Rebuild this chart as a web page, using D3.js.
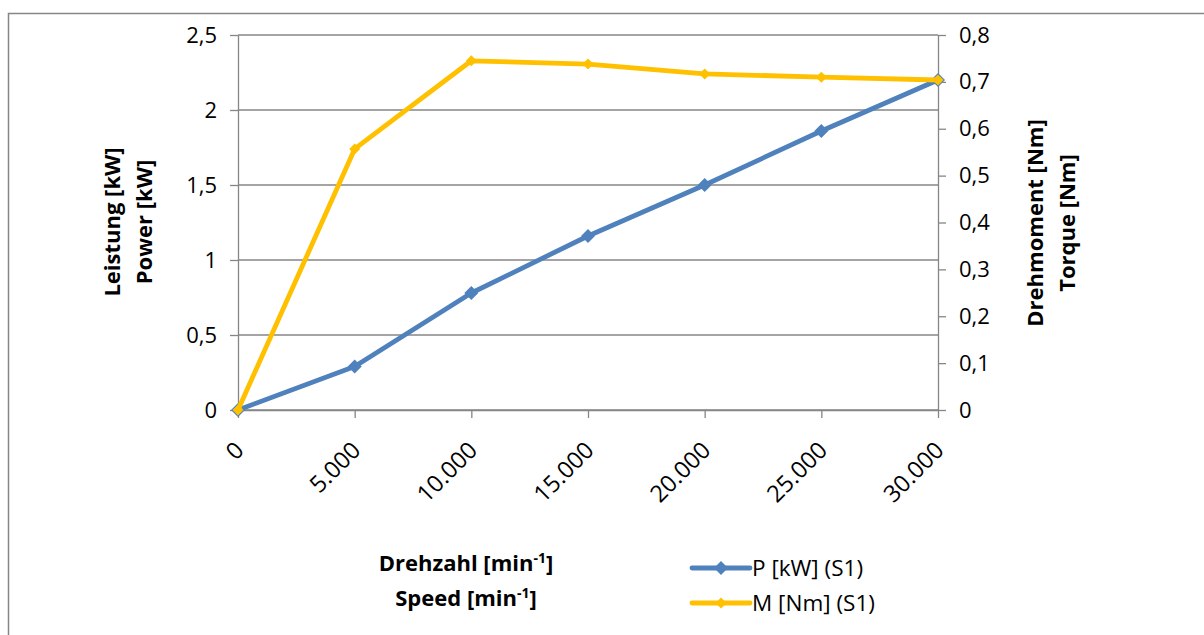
<!DOCTYPE html>
<html>
<head>
<meta charset="utf-8">
<script src="https://d3js.org/d3.v7.min.js"></script>
<style>
  body { margin: 0; background: #fff; }
  text { font-family: "Open Sans", "Liberation Sans", sans-serif; fill: #000; }
</style>
</head>
<body>
<div id="vis"></div>
<script>

// data
var categories = ["0", "5.000", "10.000", "15.000", "20.000", "25.000", "30.000"];
var power  = [0, 0.29, 0.78, 1.16, 1.50, 1.86, 2.20];      // P [kW] (S1)
var torque = [0, 0.557, 0.745, 0.738, 0.717, 0.710, 0.704]; // M [Nm] (S1)
var leftTicks  = [0, 0.5, 1, 1.5, 2, 2.5];
var rightTicks = [0, 0.1, 0.2, 0.3, 0.4, 0.5, 0.6, 0.7, 0.8];

var W = 1204, H = 635;
var plotL = 238, plotR = 938, plotT = 35, plotB = 410;
var blue = "#4F81BD", gold = "#FFC000", gray = "#868686";
var fs = "22px";

var svg = d3.select("#vis").append("svg")
  .attr("width", W)
  .attr("height", H);

// outer chart border
svg.append("rect")
  .attr("x", 8.5).attr("y", 13.5)
  .attr("width", W).attr("height", H)
  .attr("fill", "none")
  .attr("stroke", gray)
  .attr("stroke-width", 1.5);

var x = d3.scalePoint().domain(categories).range([plotL, plotR]).padding(0);
var yL = d3.scaleLinear().domain([0, 2.5]).range([plotB, plotT]);
var yR = d3.scaleLinear().domain([0, 0.8]).range([plotB, plotT]);

var comma = function(d) { return String(d).replace(".", ","); };

// gridlines
svg.append("g").selectAll("line")
  .data(leftTicks)
  .enter().append("line")
  .attr("x1", plotL).attr("x2", plotR)
  .attr("y1", function(d) { return yL(d); })
  .attr("y2", function(d) { return yL(d); })
  .attr("stroke", gray).attr("stroke-width", 1.3);

function styleAxis(g) {
  g.select(".domain").attr("stroke", gray).attr("stroke-width", 1.3);
  g.selectAll(".tick line").attr("stroke", gray).attr("stroke-width", 1.3);
  g.selectAll("text").style("font-family", "'Open Sans', sans-serif").style("font-size", fs).attr("fill", "#000");
}

var gL = svg.append("g").attr("transform", "translate(" + plotL + ",0)")
  .call(d3.axisLeft(yL).tickValues(leftTicks).tickSize(8).tickSizeOuter(0).tickPadding(13).tickFormat(comma));
styleAxis(gL);

var gR = svg.append("g").attr("transform", "translate(" + plotR + ",0)")
  .call(d3.axisRight(yR).tickValues(rightTicks).tickSize(8).tickSizeOuter(0).tickPadding(13).tickFormat(comma));
styleAxis(gR);

var gB = svg.append("g").attr("transform", "translate(0," + plotB + ")")
  .call(d3.axisBottom(x).tickSize(8).tickSizeOuter(0));
styleAxis(gB);
gB.selectAll("text")
  .style("font-size", "23.5px")
  .attr("text-anchor", "end")
  .attr("dy", "0.35em")
  .attr("transform", "translate(1,36) rotate(-45)")
  .attr("y", 0).attr("x", 0);

// lines
var series = [
  { name: "P [kW] (S1)", values: power, scale: yL, color: blue, marker: 7 },
  { name: "M [Nm] (S1)", values: torque, scale: yR, color: gold, marker: 5.5 }
];

function diamond(r) {
  return "M0," + (-r) + "L" + r + ",0L0," + r + "L" + (-r) + ",0Z";
}

series.forEach(function(s) {
  var line = d3.line()
    .x(function(d, i) { return x(categories[i]); })
    .y(function(d) { return s.scale(d); });
  svg.append("path")
    .datum(s.values)
    .attr("d", line)
    .attr("fill", "none")
    .attr("stroke", s.color)
    .attr("stroke-width", 4.8)
    .attr("stroke-linejoin", "round")
    .attr("stroke-linecap", "round");
  svg.append("g").selectAll("path")
    .data(s.values)
    .enter().append("path")
    .attr("transform", function(d, i) { return "translate(" + x(categories[i]) + "," + s.scale(d) + ")"; })
    .attr("d", diamond(s.marker))
    .attr("fill", s.color);
});

// axis titles
function vTitle(cx, cy, lines) {
  var t = svg.append("text")
    .attr("transform", "translate(" + cx + "," + cy + ") rotate(-90)")
    .attr("text-anchor", "middle")
    .style("font-size", fs)
    .style("font-weight", "bold");
  lines.forEach(function(l, i) {
    t.append("tspan").attr("x", 0).attr("dy", i === 0 ? 0 : 32).text(l);
  });
}
vTitle(120, 222, ["Leistung [kW]", "Power [kW]"]);
vTitle(1043, 223, ["Drehmoment [Nm]", "Torque [Nm]"]);

var xt = svg.append("text")
  .attr("text-anchor", "middle")
  .style("font-size", fs)
  .style("font-weight", "bold");
[["Drehzahl [min", "]", 0], ["Speed [min", "]", 35]].forEach(function(p) {
  xt.append("tspan").attr("x", 466).attr("y", 571 + p[2]).text(p[0]);
  xt.append("tspan").attr("dy", -8).style("font-size", "14px").text("-1");
  xt.append("tspan").attr("dy", 8).text(p[1]);
});

// legend
var leg = svg.append("g").selectAll("g")
  .data(series)
  .enter().append("g")
  .attr("transform", function(d, i) { return "translate(692," + (568 + i * 35) + ")"; });
leg.append("line")
  .attr("x1", 0).attr("x2", 58)
  .attr("stroke", function(d) { return d.color; })
  .attr("stroke-width", 4.8)
  .attr("stroke-linecap", "round");
leg.append("path")
  .attr("transform", "translate(29,0)")
  .attr("d", function(d) { return diamond(d.marker); })
  .attr("fill", function(d) { return d.color; });
leg.append("text")
  .attr("x", 60).attr("dy", "0.35em")
  .style("font-size", "22.5px")
  .text(function(d) { return d.name; });

</script>
</body>
</html>
